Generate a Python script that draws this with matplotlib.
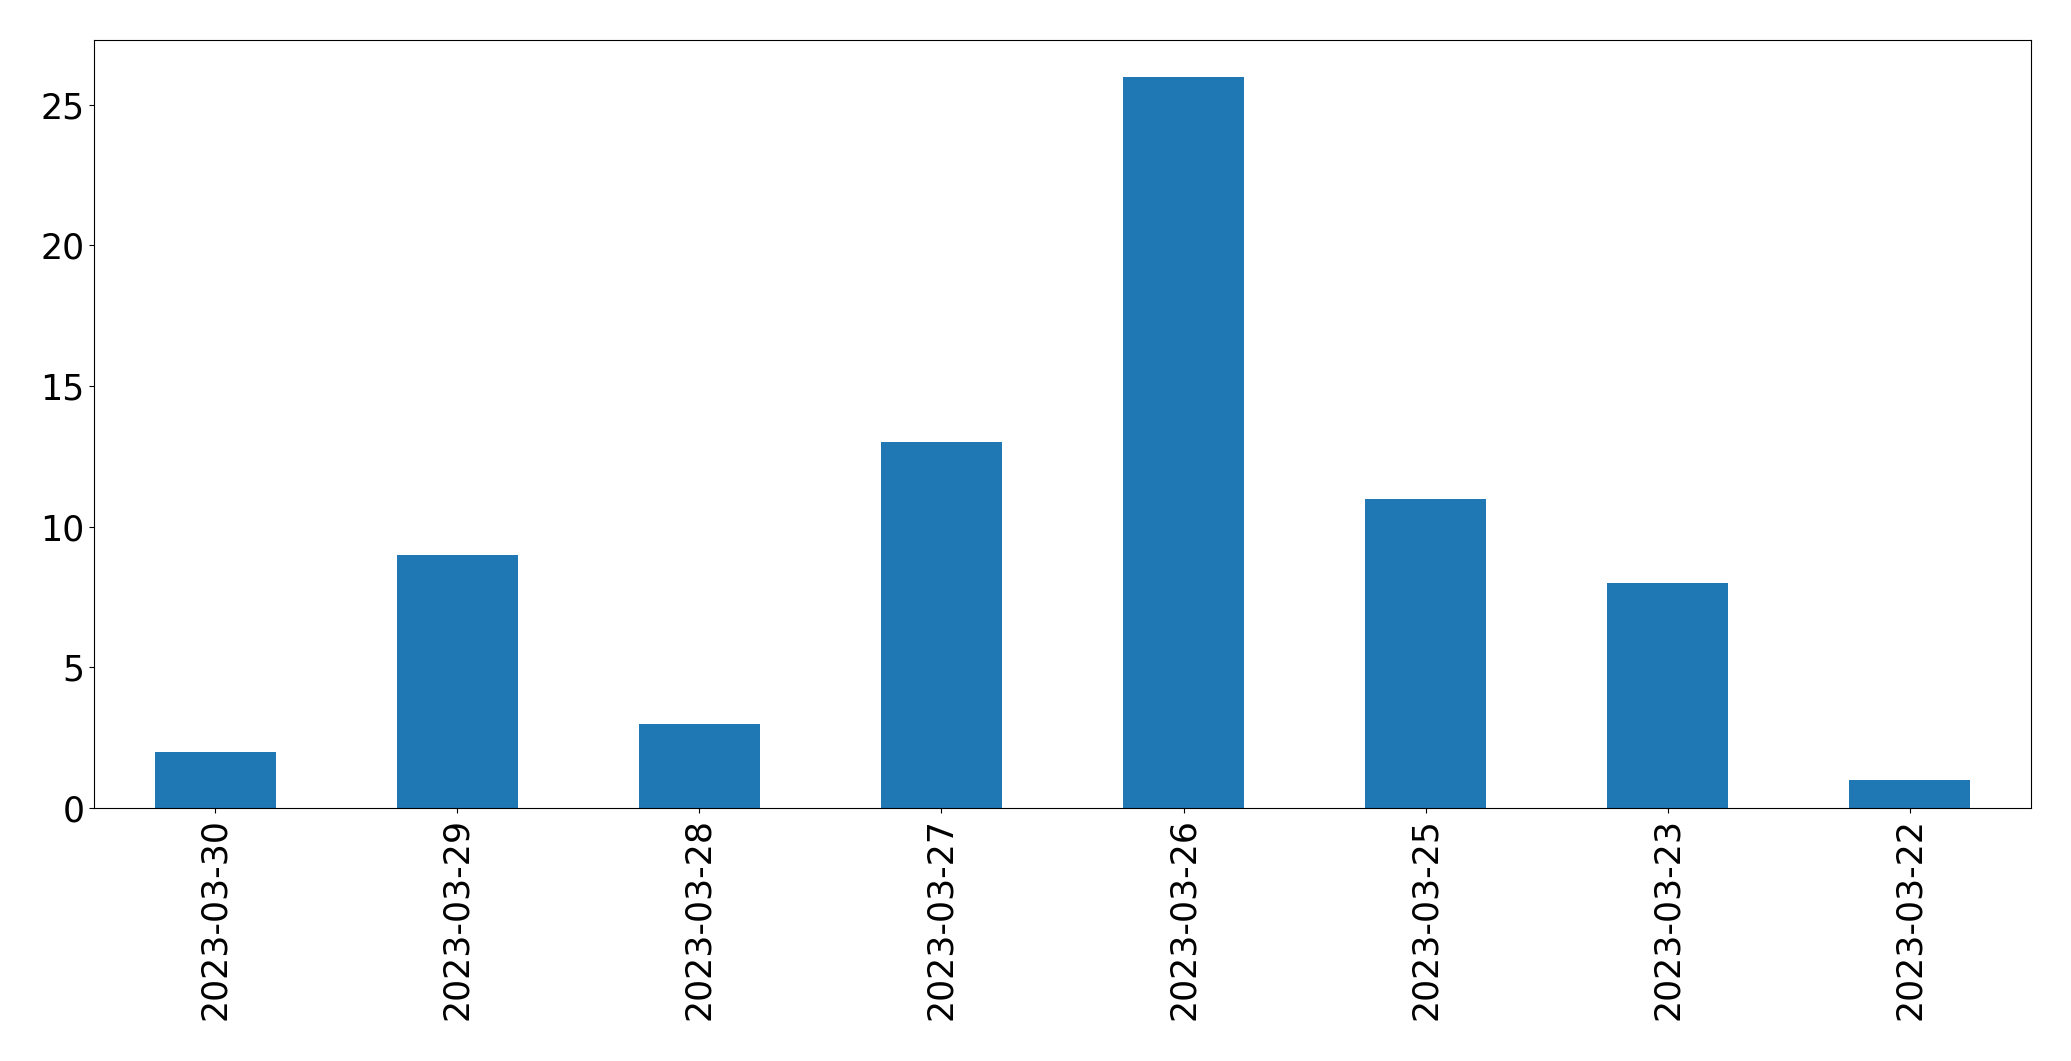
import pandas as pd
import matplotlib
matplotlib.use("Agg")
import matplotlib.pyplot as plt

# Daily counts, newest first (as in the reference)
dates = ['2023-03-30', '2023-03-29', '2023-03-28', '2023-03-27',
         '2023-03-26', '2023-03-25', '2023-03-23', '2023-03-22']
counts = [2, 9, 3, 13, 26, 11, 8, 1]

data = pd.Series(counts, index=dates)

fig, ax = plt.subplots(figsize=(20.71, 10.61), dpi=100)
data.plot(kind='bar', ax=ax, color='#1f77b4', rot=90, fontsize=25)

plt.subplots_adjust(left=0.0454, right=0.9807, top=0.9623, bottom=0.2385)
plt.savefig("out.png", dpi=100)
